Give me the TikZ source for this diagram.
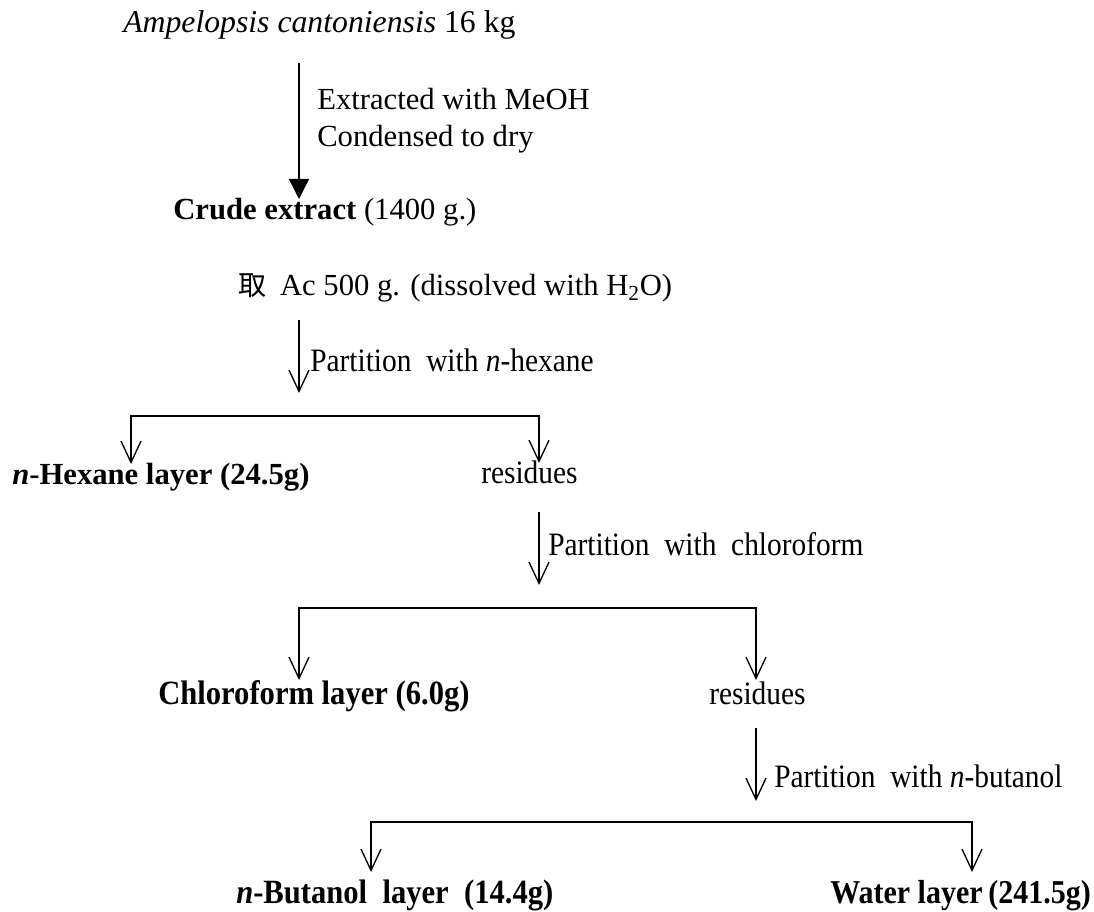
\documentclass[tikz,border=0pt]{standalone}
\usepackage{fontspec}
\setmainfont{Liberation Serif}
\newfontfamily\narrowfont[FakeStretch=0.9]{Liberation Serif}
\newfontfamily\cjkfont{Noto Sans CJK TC}
\usetikzlibrary{arrows.meta}
\begin{document}
\begin{tikzpicture}[x=0.75pt,y=-0.75pt,
  lbl/.style={anchor=base west,inner sep=0pt,font=\fontsize{23}{27}\selectfont},
  nlbl/.style={anchor=base west,inner sep=0pt,font=\narrowfont\fontsize{25.5}{29}\selectfont},
  plbl/.style={anchor=base west,inner sep=0pt,font=\narrowfont\fontsize{24.5}{28}\selectfont},
  flow/.style={line width=1pt,-{Triangle[width=15pt,length=15pt]}},
  split/.style={line width=1pt,-{Straight Barb[width=15pt,length=16pt]}},
  splitboth/.style={line width=1pt,{Straight Barb[width=15pt,length=16pt]}-{Straight Barb[width=15pt,length=16pt]}},
]
\useasboundingbox (0,0) rectangle (1094,912);
\fill[white] (0,0) rectangle (1094,912);

% texts
\node[lbl,font=\fontsize{23.8}{28}\selectfont] (src) at (123,33) {\textit{Ampelopsis cantoniensis} 16 kg};
\node[lbl] (ext1) at (317,110) {Extracted with MeOH};
\node[lbl] (ext2) at (317,147) {Condensed to dry};
\node[lbl] (crude) at (173,220) {\textbf{Crude extract} (1400 g.)};
\node[lbl] (ac) at (238,296) {{\cjkfont\fontsize{21}{24}\selectfont 取}\hspace{0.45em}Ac 500 g. (dissolved with H\textsubscript{2}O)};
\node[plbl] (p1) at (310,372) {Partition\ \ with \textit{n}-hexane};
\node[lbl] (hex) at (12,484) {\textbf{\textit{n}-Hexane layer (24.5g)}};
\node[plbl] (res1) at (481,483) {residues};
\node[plbl] (p2) at (548,555) {Partition\ \ with\ \ chloroform};
\node[nlbl] (chl) at (158,704) {\textbf{Chloroform layer (6.0g)}};
\node[plbl] (res2) at (709,704) {residues};
\node[plbl] (p3) at (774,787) {Partition\ \ with \textit{n}-butanol};
\node[nlbl] (but) at (236,903) {\textbf{\textit{n}-Butanol\ \ layer\ \ (14.4g)}};
\node[nlbl,font=\narrowfont\fontsize{25}{29}\selectfont] (wat) at (830,903) {\textbf{Water layer\,(241.5g)}};

% connector points
\coordinate (a0s) at (299,63);  \coordinate (a0e) at (299,199);
\coordinate (a1s) at (299,320); \coordinate (a1e) at (299,393);
\coordinate (b1l) at (131,416); \coordinate (b1r) at (539,416);
\coordinate (h1) at (131,464);  \coordinate (r1) at (539,463);
\coordinate (a2s) at (539,512); \coordinate (a2e) at (539,585);
\coordinate (b2l) at (299,608); \coordinate (b2r) at (756,608);
\coordinate (c2) at (299,680);  \coordinate (r2) at (756,680);
\coordinate (a3s) at (756,728); \coordinate (a3e) at (756,801);
\coordinate (b3l) at (371,822); \coordinate (b3r) at (972,822);
\coordinate (n3) at (371,872);  \coordinate (w3) at (972,872);

% connectors
\draw[flow] (a0s) -- (a0e);
\draw[split] (a1s) -- (a1e);
\draw[splitboth] (h1) -- (b1l) -- (b1r) -- (r1);
\draw[split] (a2s) -- (a2e);
\draw[splitboth] (c2) -- (b2l) -- (b2r) -- (r2);
\draw[split] (a3s) -- (a3e);
\draw[splitboth] (n3) -- (b3l) -- (b3r) -- (w3);
\end{tikzpicture}
\end{document}
